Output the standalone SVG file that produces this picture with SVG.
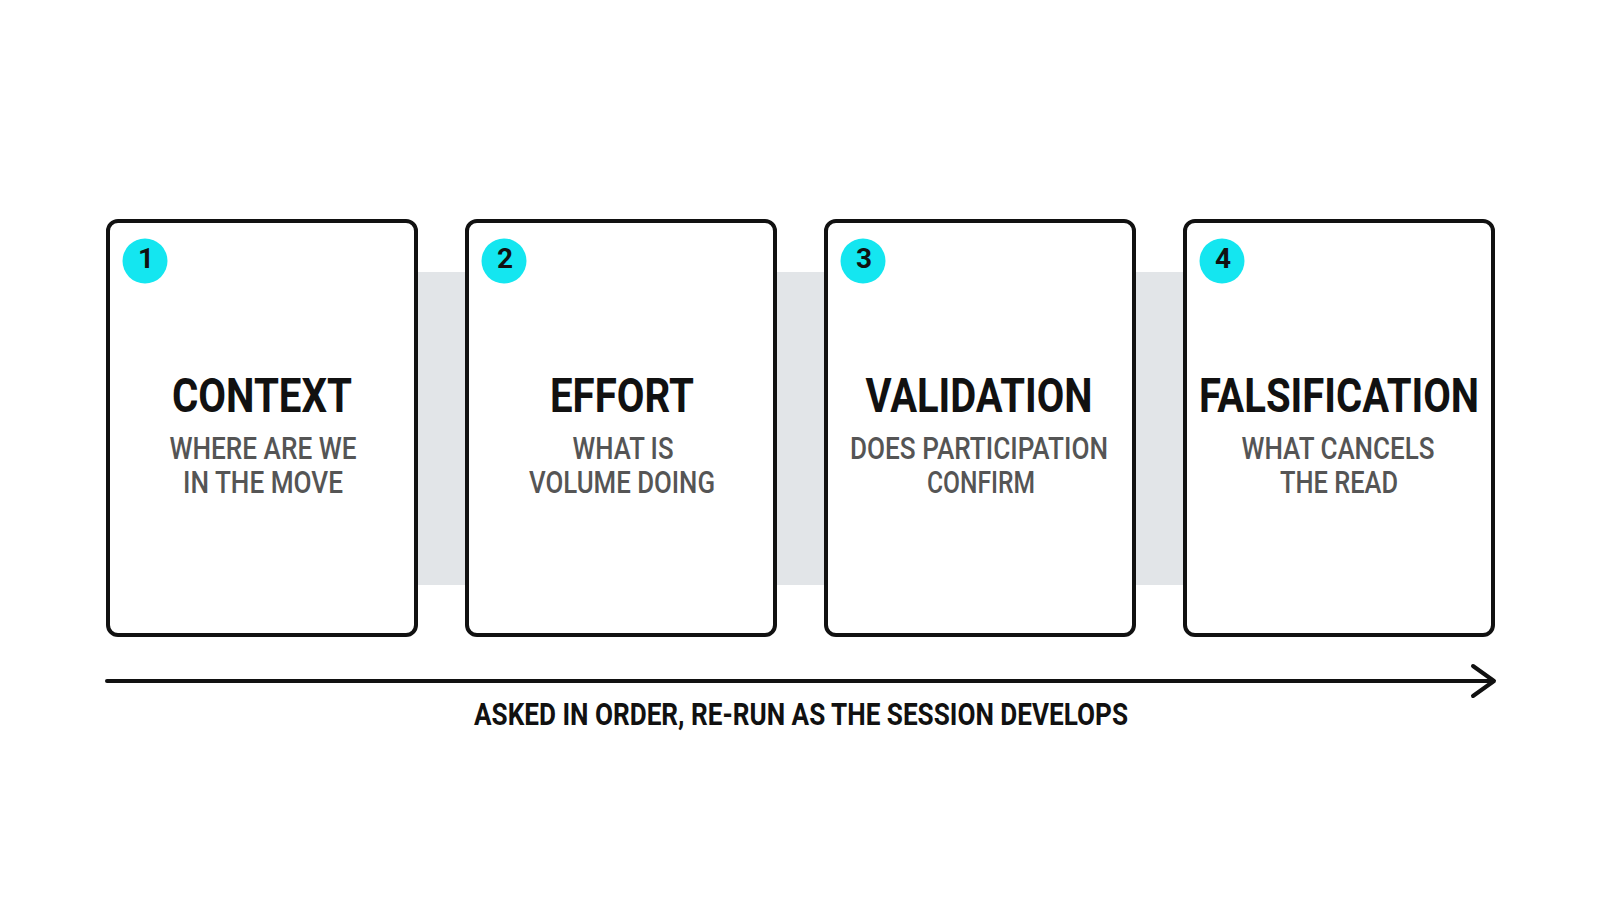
<svg xmlns="http://www.w3.org/2000/svg" width="1600" height="914" viewBox="0 0 1600 914">
  <style>
    .card { fill: #ffffff; stroke: #111111; stroke-width: 4; }
    .badge { fill: #14e6f0; }
    .num { font-family: Roboto, "Liberation Sans", sans-serif; font-weight: 700; font-size: 28px; fill: #111111; text-anchor: middle; }
    .title { font-family: Roboto, "Liberation Sans", sans-serif; font-weight: 700; font-size: 49px; fill: #111111; text-anchor: middle; }
    .sub { font-family: Roboto, "Liberation Sans", sans-serif; font-weight: 500; font-size: 31px; fill: #555555; text-anchor: middle; }
    .caption { font-family: Roboto, "Liberation Sans", sans-serif; font-weight: 700; font-size: 31px; fill: #111111; text-anchor: middle; }
    .band { fill: #e2e5e8; }
    .axis { stroke: #111111; stroke-width: 4; fill: none; stroke-linecap: round; stroke-linejoin: round; }
  </style>
  <rect x="0" y="0" width="1600" height="914" fill="#ffffff"/>
  <g id="connectors">
    <rect class="band" x="410" y="272" width="63" height="313"/>
    <rect class="band" x="769" y="272" width="63" height="313"/>
    <rect class="band" x="1128" y="272" width="63" height="313"/>
    <line class="axis" x1="107" y1="681" x2="1493" y2="681"/>
    <polyline class="axis" points="1473,666 1494,681 1473,696"/>
  </g>
  <g id="node-context">
    <rect class="card" x="108" y="221" width="308" height="414" rx="10"/>
    <circle class="badge" cx="145" cy="261" r="22.5"/>
    <text class="num" x="146" y="268">1</text>
    <text class="title" x="262" y="412" textLength="180" lengthAdjust="spacingAndGlyphs">CONTEXT</text>
    <text class="sub" x="263" y="459" textLength="187" lengthAdjust="spacingAndGlyphs">WHERE ARE WE</text>
    <text class="sub" x="263" y="493" textLength="160" lengthAdjust="spacingAndGlyphs">IN THE MOVE</text>
  </g>
  <g id="node-effort">
    <rect class="card" x="467" y="221" width="308" height="414" rx="10"/>
    <circle class="badge" cx="504" cy="261" r="22.5"/>
    <text class="num" x="505" y="268">2</text>
    <text class="title" x="622" y="412" textLength="144" lengthAdjust="spacingAndGlyphs">EFFORT</text>
    <text class="sub" x="623" y="459" textLength="101" lengthAdjust="spacingAndGlyphs">WHAT IS</text>
    <text class="sub" x="622" y="493" textLength="186" lengthAdjust="spacingAndGlyphs">VOLUME DOING</text>
  </g>
  <g id="node-validation">
    <rect class="card" x="826" y="221" width="308" height="414" rx="10"/>
    <circle class="badge" cx="863" cy="261" r="22.5"/>
    <text class="num" x="864" y="268">3</text>
    <text class="title" x="979" y="412" textLength="227" lengthAdjust="spacingAndGlyphs">VALIDATION</text>
    <text class="sub" x="979" y="459" textLength="258" lengthAdjust="spacingAndGlyphs">DOES PARTICIPATION</text>
    <text class="sub" x="981" y="493" textLength="108" lengthAdjust="spacingAndGlyphs">CONFIRM</text>
  </g>
  <g id="node-falsification">
    <rect class="card" x="1185" y="221" width="308" height="414" rx="10"/>
    <circle class="badge" cx="1222" cy="261" r="22.5"/>
    <text class="num" x="1223" y="268">4</text>
    <text class="title" x="1339" y="412" textLength="280" lengthAdjust="spacingAndGlyphs">FALSIFICATION</text>
    <text class="sub" x="1338" y="459" textLength="193" lengthAdjust="spacingAndGlyphs">WHAT CANCELS</text>
    <text class="sub" x="1339" y="493" textLength="118" lengthAdjust="spacingAndGlyphs">THE READ</text>
  </g>
  <g id="caption">
    <text class="caption" x="801" y="725" textLength="654" lengthAdjust="spacingAndGlyphs">ASKED IN ORDER, RE-RUN AS THE SESSION DEVELOPS</text>
  </g>
</svg>
